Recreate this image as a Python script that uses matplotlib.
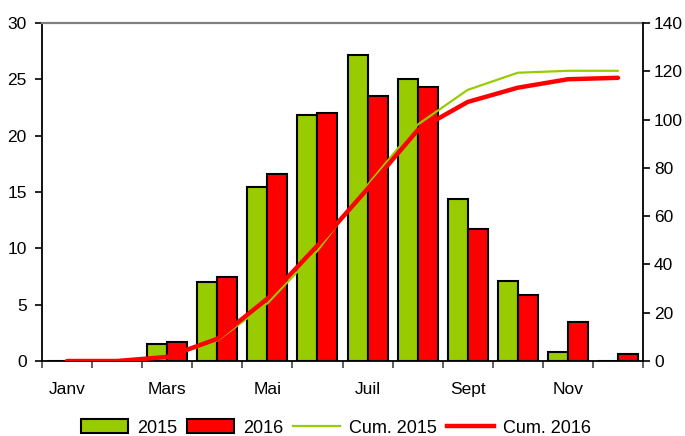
import matplotlib
matplotlib.use("Agg")
import matplotlib.pyplot as plt
from matplotlib.patches import Patch
from matplotlib.lines import Line2D
import numpy as np

plt.rcParams['font.family'] = ['Liberation Sans', 'DejaVu Sans']

months = ["Janv", "Févr", "Mars", "Avr", "Mai", "Juin", "Juil", "Août", "Sept", "Oct", "Nov", "Déc"]
tick_labels = ["Janv", "", "Mars", "", "Mai", "", "Juil", "", "Sept", "", "Nov", ""]
v2015 = [0, 0, 1.5, 7.0, 15.4, 21.8, 27.2, 25.0, 14.4, 7.1, 0.8, 0]
v2016 = [0, 0, 1.7, 7.5, 16.6, 22.0, 23.5, 24.3, 11.7, 5.9, 3.5, 0.6]
cum2015 = [0, 0, 1.5, 8.5, 23.9, 45.7, 72.9, 97.9, 112.3, 119.4, 120.2, 120.2]
cum2016 = [0, 0, 1.7, 9.2, 25.8, 47.8, 71.3, 95.6, 107.3, 113.2, 116.7, 117.3]

GREEN = "#99CC00"
RED = "#FF0000"

fig = plt.figure(figsize=(6.85, 4.36), dpi=100)
ax = fig.add_axes([42/685, 1-361/436, (643-42)/685, (361-23)/436])
x = np.arange(len(months))
w = 0.4
ax.bar(x - w/2, v2015, width=w, color=GREEN, edgecolor="black", linewidth=1.5)
ax.bar(x + w/2, v2016, width=w, color=RED, edgecolor="black", linewidth=1.5)
ax.set_xlim(-0.5, 11.5)
ax.set_ylim(0, 30)
ax.set_yticks(np.arange(0, 31, 5))

ax.set_xticks(np.arange(-0.5, 12, 1))
ax.set_xticklabels([])
ax.set_xticks(x, minor=True)
ax.set_xticklabels(tick_labels, minor=True)
ax.tick_params(axis='x', which='major', length=5, width=1.2, direction='out', color='#444444')
ax.tick_params(axis='x', which='minor', length=0, pad=15, labelsize=12.5)
ax.tick_params(axis='y', length=5, width=1.2, pad=6, labelsize=12.5)

for s in ['left', 'bottom']:
    ax.spines[s].set_linewidth(1.3)
    ax.spines[s].set_color('black')
ax.spines['top'].set_color('#808080')
ax.spines['top'].set_linewidth(1.6)
ax.spines['right'].set_visible(False)

ax2 = ax.twinx()
ax2.plot(x, cum2015, color=GREEN, linewidth=1.6, solid_capstyle='round')
ax2.plot(x, cum2016, color=RED, linewidth=3.2, solid_capstyle='round')
ax2.set_ylim(0, 140)
ax2.set_yticks(np.arange(0, 141, 20))
ax2.tick_params(axis='y', length=5, width=1.2, pad=3, labelsize=12.5)
ax2.spines['right'].set_linewidth(1.3)
ax2.spines['top'].set_visible(False)
ax2.spines['left'].set_visible(False)
ax2.spines['bottom'].set_visible(False)

handles = [
    Patch(facecolor=GREEN, edgecolor='black', linewidth=1.5),
    Patch(facecolor=RED, edgecolor='black', linewidth=1.5),
    Line2D([0], [0], color=GREEN, linewidth=1.6),
    Line2D([0], [0], color=RED, linewidth=3.2),
]
fig.legend(handles, ["2015", "2016", "Cum. 2015", "Cum. 2016"], loc='center',
           bbox_to_anchor=(0.49, 1-428/436), ncol=4, frameon=False, fontsize=13,
           handlelength=2.6, handletextpad=0.5, columnspacing=0.55, handleheight=0.8)

fig.savefig("out.png", dpi=100)
